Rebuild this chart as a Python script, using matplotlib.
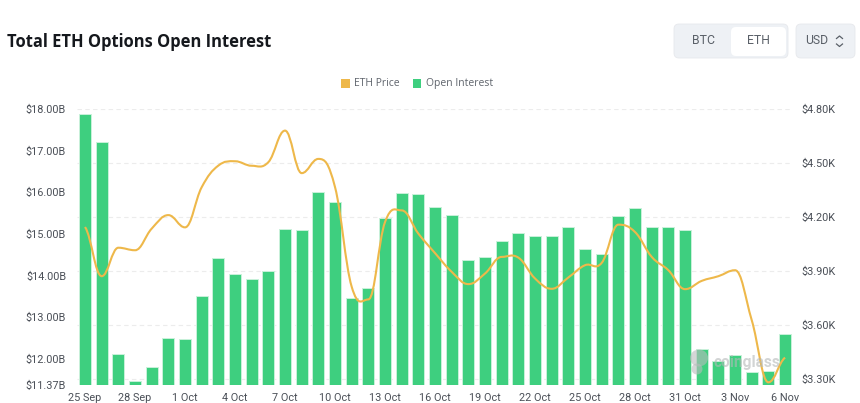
import matplotlib
matplotlib.use('Agg')
import matplotlib.pyplot as plt
import numpy as np
from matplotlib.path import Path
from matplotlib.patches import PathPatch, FancyBboxPatch, Rectangle, Ellipse

months = ['25 Sep', '26 Sep', '27 Sep', '28 Sep', '29 Sep', '30 Sep',
          '1 Oct', '2 Oct', '3 Oct', '4 Oct', '5 Oct', '6 Oct', '7 Oct', '8 Oct', '9 Oct',
          '10 Oct', '11 Oct', '12 Oct', '13 Oct', '14 Oct', '15 Oct', '16 Oct', '17 Oct',
          '18 Oct', '19 Oct', '20 Oct', '21 Oct', '22 Oct', '23 Oct', '24 Oct', '25 Oct',
          '26 Oct', '27 Oct', '28 Oct', '29 Oct', '30 Oct', '31 Oct',
          '1 Nov', '2 Nov', '3 Nov', '4 Nov', '5 Nov', '6 Nov']

open_interest = [17.89, 17.21, 12.11, 11.47, 11.80, 12.50, 12.47, 13.50, 14.43, 14.04,
                 13.91, 14.12, 15.11, 15.09, 16.01, 15.76, 13.46, 13.69, 15.37, 15.98,
                 15.97, 15.65, 15.46, 14.38, 14.45, 14.83, 15.01, 14.94, 14.94, 15.17,
                 14.64, 14.52, 15.42, 15.63, 15.17, 15.16, 15.09, 12.23, 11.95, 12.09,
                 11.69, 11.71, 12.59]

eth_price = [4.145, 3.872, 4.030, 4.016, 4.136, 4.211, 4.143, 4.366, 4.486, 4.510,
             4.485, 4.505, 4.680, 4.444, 4.523, 4.366, 3.813, 3.743, 4.173, 4.237,
             4.108, 4.000, 3.896, 3.828, 3.887, 3.979, 3.975, 3.859, 3.802, 3.865,
             3.933, 3.946, 4.158, 4.117, 3.979, 3.905, 3.800, 3.846, 3.872, 3.905,
             3.628, 3.283, 3.420]

left_ticks = [11.37, 12, 13, 14, 15, 16, 17, 18]
left_labels = ['$11.37B', '$12.00B', '$13.00B', '$14.00B', '$15.00B', '$16.00B', '$17.00B', '$18.00B']
right_ticks = [3.30, 3.60, 3.90, 4.20, 4.50, 4.80]
right_labels = ['$3.30K', '$3.60K', '$3.90K', '$4.20K', '$4.50K', '$4.80K']

GREEN = '#3ecf7f'
GOLD = '#eeb84a'
TICK = '#4a4f57'
W, H = 860, 403


def smooth_path(xs, ys, k=0.2):
    # bezier segments through the daily values, flat at local peaks
    xs = np.asarray(xs, float)
    ys = np.asarray(ys, float)
    verts = [(xs[0], ys[0])]
    codes = [Path.MOVETO]
    slope = np.zeros(len(ys))
    for i in range(1, len(ys) - 1):
        if (ys[i] - ys[i - 1]) * (ys[i + 1] - ys[i]) > 0:
            slope[i] = (ys[i + 1] - ys[i - 1]) / 2
    slope[0] = (ys[1] - ys[0]) * 0.5
    slope[-1] = (ys[-1] - ys[-2]) * 0.5
    for i in range(len(ys) - 1):
        verts.append((xs[i] + 0.4, ys[i] + slope[i] * k * 2))
        verts.append((xs[i + 1] - 0.4, ys[i + 1] - slope[i + 1] * k * 2))
        verts.append((xs[i + 1], ys[i + 1]))
        codes += [Path.CURVE4] * 3
    return Path(verts, codes)


plt.rcParams['font.family'] = ['Roboto', 'DejaVu Sans']
fig = plt.figure(figsize=(W / 100, H / 100), dpi=100, facecolor='white')

# main plot area, 77..793 x 109..385 px
rect = [76.7 / W, 1 - 385 / H, (793.4 - 76.7) / W, (385 - 109) / H]
ax_r = fig.add_axes(rect, zorder=1)
ax = fig.add_axes(rect, zorder=2)
ax.patch.set_visible(False)

x = np.arange(len(months))
ax.bar(x, open_interest, width=0.72, color=GREEN, edgecolor='#c9f1da', linewidth=0.7, bottom=0)
ax.set_xlim(-0.5, len(months) - 0.5)
ax.set_ylim(11.37, 18.0)
ax.set_yticks(left_ticks)
ax.set_yticklabels(left_labels)
ax.set_xticks(x[::3])
ax.set_xticklabels(months[::3])
ax.tick_params(axis='both', length=0, labelsize=7.8, labelcolor=TICK)
ax.tick_params(axis='y', pad=7.6)
ax.tick_params(axis='x', pad=5.8)

ax_r.set_xlim(ax.get_xlim())
ax_r.set_ylim(3.268, 4.80)
ax_r.yaxis.tick_right()
ax_r.set_yticks(right_ticks)
ax_r.set_yticklabels(right_labels)
ax_r.set_xticks([])
ax_r.tick_params(axis='y', length=0, labelsize=7.8, labelcolor=TICK, pad=5.8)
ax_r.grid(axis='y', color='#ececec', linestyle=(0, (4, 3)), linewidth=0.8)
ax_r.set_axisbelow(True)

for a in (ax, ax_r):
    for s in a.spines.values():
        s.set_visible(False)

# price line is scaled by the right axis but sits over the bars
ax.add_patch(PathPatch(smooth_path(x, eth_price), facecolor='none', edgecolor=GOLD,
                       linewidth=1.5, transform=ax_r.transData, zorder=5))

# overlay in pixel coordinates for the page furniture
ui = fig.add_axes([0, 0, 1, 1], zorder=3)
ui.set_xlim(0, W)
ui.set_ylim(H, 0)
ui.axis('off')

ui.text(7, 42, 'Total ETH Options Open Interest', fontsize=11.9, fontweight='bold',
        family=['Open Sans', 'DejaVu Sans'], color='#15181d', va='center', ha='left')

# legend
ui.add_patch(Rectangle((341, 79), 8.5, 8.5, color=GOLD, lw=0))
ui.text(354, 83.5, 'ETH Price', fontsize=7.5, color='#5f646c', va='center',
        family=['Open Sans', 'DejaVu Sans'])
ui.add_patch(Rectangle((412.5, 79), 8.5, 8.5, color=GREEN, lw=0))
ui.text(426, 83.5, 'Open Interest', fontsize=7.5, color='#5f646c', va='center',
        family=['Open Sans', 'DejaVu Sans'])

# BTC / ETH switch and currency selector
def box(x0, y0, x1, y1, color, edge='none'):
    ui.add_patch(FancyBboxPatch((x0 + 3, y0 + 3), x1 - x0 - 6, y1 - y0 - 6,
                                boxstyle='round,pad=3,rounding_size=5',
                                facecolor=color, edgecolor=edge, linewidth=0.6))

box(674, 24, 788, 58, '#eef1f5', '#e6e8ec')
box(731, 27, 786, 56, 'white')
box(796, 24, 855, 58, '#eef1f5', '#e6e8ec')
ui.text(703.5, 41, 'BTC', fontsize=8.8, color='#5a6068', ha='center', va='center')
ui.text(758.5, 41, 'ETH', fontsize=8.8, color='#5a6068', ha='center', va='center')
ui.text(817, 41, 'USD', fontsize=8.8, color='#5a6068', ha='center', va='center')
ui.plot([836.5, 839.5, 842.5], [38.5, 36, 38.5], color='#5a6068', lw=0.9)
ui.plot([836.5, 839.5, 842.5], [44, 46.5, 44], color='#5a6068', lw=0.9)

# watermark
ui.add_patch(Ellipse((699, 358), 18, 17, color='#b8bcbc', alpha=0.6, lw=0))
ui.add_patch(Ellipse((697, 369), 11, 11, color='#b8bcbc', alpha=0.6, lw=0))
ui.text(713, 363, 'coinglass', fontsize=11.2, fontweight='bold', color='#b4b8b8', alpha=0.6,
        va='center', ha='left')

fig.savefig('out.png', dpi=100, facecolor='white')
